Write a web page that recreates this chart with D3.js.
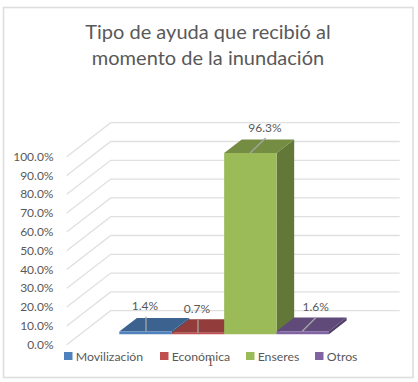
<!DOCTYPE html>
<html lang="es">
<head>
    <meta charset="UTF-8">
    <title>Tipo de ayuda</title>
    <script src="https://cdn.jsdelivr.net/npm/d3@7/dist/d3.min.js"></script>
    <style>
        html, body { margin: 0; padding: 0; background: #fff; overflow: hidden; }
        svg { display: block; }
        text { font-family: Lato, "Open Sans", sans-serif; fill: #595959; }
    </style>
</head>
<body>
<script type="text/javascript">
    const categories = ["Movilización", "Económica", "Enseres", "Otros"];
    const values = [1.4, 0.7, 96.3, 1.6];
    const valueLabels = ["1.4%", "0.7%", "96.3%", "1.6%"];
    const tickValues = [0, 10, 20, 30, 40, 50, 60, 70, 80, 90, 100];
    const titleLines = ["Tipo de ayuda que recibió al", "momento de la inundación"];
    const frontColors = ["#4f81bd", "#c0504d", "#9bbb59", "#8064a2"];
    const topColors = ["#3c6290", "#923d3b", "#748d43", "#5f4a7a"];
    const sideColors = ["#335378", "#7c3331", "#627738", "#503e67"];

    let width = 418,
        height = 382;

    let svg = d3.select("body").append("svg")
        .attr("width", width)
        .attr("height", height);

    // frame
    svg.append("rect")
        .attr("x", 3.5).attr("y", 7.5)
        .attr("width", 409.5).attr("height", 370)
        .attr("fill", "#fff")
        .attr("stroke", "#dedede")
        .attr("stroke-width", 1.6);

    // title
    svg.append("g").selectAll("text")
        .data(titleLines)
        .join("text")
        .attr("x", 208)
        .attr("y", (d, i) => 38.5 + i * 26)
        .attr("text-anchor", "middle")
        .attr("font-size", 20)
        .text(d => d);

    // front plane scales + depth shift of the 3d box
    const barDepth0 = 0.31, barDepth1 = 0.71;
    let y = d3.scaleLinear().domain([0, 100]).range([344.7, 156.7]);
    let depthX = d3.scaleLinear().domain([0, 1]).range([0, 44]);
    let depthY = d3.scaleLinear().domain([0, 1]).range([0, -34]);
    let x = d3.scaleBand().domain(categories)
        .range([119.3 - depthX(barDepth0), 329 - depthX(barDepth0)]);

    const floorLeft = 66.7,
        wallRight = 399.7;

    // point on the chart: px is the front x, v the value, d the depth 0..1
    function pt(px, v, d) {
        return [px + depthX(d), y(v) + depthY(d)];
    }
    function poly(points) {
        return points.map(p => p.join(",")).join(" ");
    }

    // gridlines: side wall + back wall
    let grid = svg.append("g").attr("fill", "none")
        .attr("stroke", "#e0e0e0").attr("stroke-width", 1.3);
    grid.selectAll("polyline")
        .data(tickValues)
        .join("polyline")
        .attr("points", d => poly([pt(floorLeft, d, 0), pt(floorLeft, d, 1), [wallRight, pt(floorLeft, d, 1)[1]]]));

    // y axis labels
    svg.append("g").selectAll("text")
        .data(tickValues)
        .join("text")
        .attr("x", 53.5)
        .attr("y", d => y(d) + 4)
        .attr("text-anchor", "end")
        .attr("font-size", 12)
        .text(d => d3.format(".1f")(d) + "%");

    // bars
    let bars = svg.append("g").selectAll("g")
        .data(categories)
        .join("g");

    bars.append("polygon") // side
        .attr("fill", (d, i) => sideColors[i])
        .attr("points", (d, i) => {
            let r = x(d) + x.bandwidth();
            return poly([pt(r, 0, barDepth0), pt(r, 0, barDepth1), pt(r, values[i], barDepth1), pt(r, values[i], barDepth0)]);
        });
    bars.append("polygon") // top
        .attr("fill", (d, i) => topColors[i])
        .attr("points", (d, i) => {
            let l = x(d), r = l + x.bandwidth();
            return poly([pt(l, values[i], barDepth0), pt(r, values[i], barDepth0), pt(r, values[i], barDepth1), pt(l, values[i], barDepth1)]);
        });
    bars.append("polygon") // front
        .attr("fill", (d, i) => frontColors[i])
        .attr("points", (d, i) => {
            let l = x(d), r = l + x.bandwidth();
            return poly([pt(l, 0, barDepth0), pt(r, 0, barDepth0), pt(r, values[i], barDepth0), pt(l, values[i], barDepth0)]);
        });

    // leader lines and value labels
    const leaderFrom = [[146, 332], [198, 333], [250, 153], [302.3, 331.3]];
    const leaderTo = [[146, 316.7], [198, 320], [265.7, 138], [315.7, 317.7]];
    const labelAt = [[145, 310], [197, 313], [265, 132], [315.7, 311]];

    svg.append("g").selectAll("line")
        .data(categories)
        .join("line")
        .attr("x1", (d, i) => leaderFrom[i][0])
        .attr("y1", (d, i) => leaderFrom[i][1])
        .attr("x2", (d, i) => leaderTo[i][0])
        .attr("y2", (d, i) => leaderTo[i][1])
        .attr("stroke", "#a6a6a6")
        .attr("stroke-width", 1.3);

    svg.append("g").selectAll("text")
        .data(valueLabels)
        .join("text")
        .attr("x", (d, i) => labelAt[i][0])
        .attr("y", (d, i) => labelAt[i][1])
        .attr("text-anchor", "middle")
        .attr("font-size", 12)
        .text(d => d);

    // legend
    const legendX = [64, 160, 246, 315];
    let legend = svg.append("g").selectAll("g")
        .data(categories)
        .join("g")
        .attr("transform", (d, i) => "translate(" + legendX[i] + ",352)");
    legend.append("rect")
        .attr("y", 0).attr("width", 8.5).attr("height", 8)
        .attr("fill", (d, i) => frontColors[i]);
    legend.append("text")
        .attr("x", 11.7).attr("y", 8.5)
        .attr("font-size", 12.3)
        .text(d => d);

    // stray page number under the legend
    svg.append("text")
        .attr("x", 210.5).attr("y", 366)
        .attr("text-anchor", "middle")
        .attr("font-size", 13)
        .style("font-family", "'Liberation Serif', serif")
        .style("fill", "#6b4a45")
        .text("1");
</script>
</body>
</html>
